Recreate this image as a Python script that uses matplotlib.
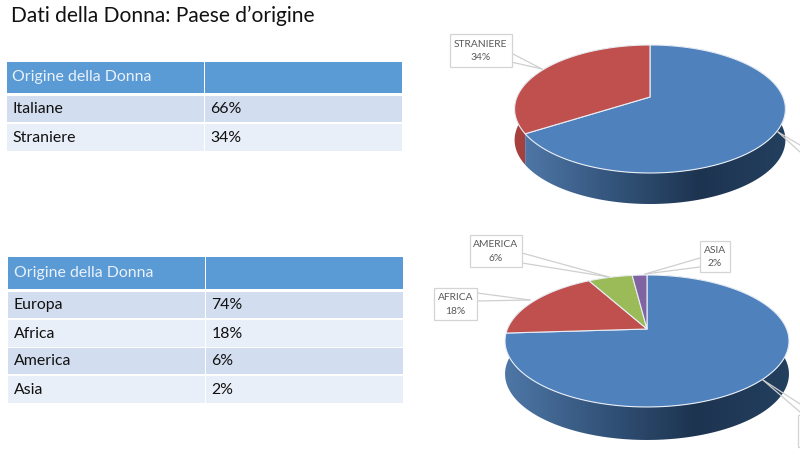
import numpy as np
import matplotlib
matplotlib.use("Agg")
import matplotlib.pyplot as plt
from matplotlib.patches import Polygon, Rectangle
from matplotlib.colors import LinearSegmentedColormap

TITLE = "Dati della Donna: Paese d’origine"
TABLE_HEADER = "Origine della Donna"

origin_labels = ["Italiane", "Straniere"]
origin_values = [66, 34]
area_labels = ["Europa", "Africa", "America", "Asia"]
area_values = [74, 18, 6, 2]

BLUE, RED, GREEN, PURPLE = "#4f81bd", "#c0504d", "#9bbb59", "#8064a2"
FONT = "Lato"

fig = plt.figure(figsize=(8, 4.57), dpi=100, facecolor="white")
ax = fig.add_axes([0, 0, 1, 1])
ax.set_xlim(0, 800)
ax.set_ylim(457, 0)
ax.axis("off")

ax.text(11, 15.5, TITLE, fontsize=15.1, family=FONT, color="#111111", va="center", ha="left")


def draw_table(rows, values, x0, top, header_bottom, row_spans):
    xm, x1 = x0 + 197, x0 + 394.5
    ax.add_patch(Rectangle((x0, top), xm - x0 - 0.5, header_bottom - top, fc="#5b9bd5", ec="none"))
    ax.add_patch(Rectangle((xm + 0.5, top), x1 - xm - 0.5, header_bottom - top, fc="#5b9bd5", ec="none"))
    ax.text(x0 + 5.5, (top + header_bottom) / 2 - 0.5, TABLE_HEADER, color="#e9f1fa", fontsize=11.4,
            family=FONT, va="center")
    for i, (r, v, (y0, y1)) in enumerate(zip(rows, values, row_spans)):
        c = "#d2deef" if i % 2 == 0 else "#e9eff8"
        ax.add_patch(Rectangle((x0, y0), xm - x0 - 0.5, y1 - y0, fc=c, ec="none"))
        ax.add_patch(Rectangle((xm + 0.5, y0), x1 - xm - 0.5, y1 - y0, fc=c, ec="none"))
        ym = (y0 + y1) / 2
        ax.text(x0 + 5.5, ym, r, color="#111111", fontsize=11.4, family=FONT, va="center")
        ax.text(xm + 6.5, ym, f"{v}%", color="#111111", fontsize=11.4, family=FONT, va="center")


draw_table(origin_labels, origin_values, 7, 62, 93, [(96, 122), (124, 151)])
draw_table(area_labels, area_values, 8, 257, 289, [(292, 318), (320, 347), (348, 374), (376, 403)])


def draw_pie(values, colors, cx, cy, a, b, k, depth, wall_extra=0.0):
    """Perspective-projected 3D pie; slices run clockwise from 12 o'clock."""
    def rim(theta):
        u, v = np.sin(theta), np.cos(theta)
        w = 1 + k * v
        return cx + a * u / w, cy - b * v / w

    edges = np.cumsum([0] + list(values)) / sum(values) * 2 * np.pi
    side_cmap = LinearSegmentedColormap.from_list("s", ["#4f78a8", "#34557c", "#1d3450", "#23405f"])

    # side walls (the top face later hides their back parts)
    for i, c in enumerate(colors):
        start = edges[i] + (wall_extra if i == 1 else 0)
        stop = edges[i + 1] + (wall_extra if i == 0 else 0)
        t = np.linspace(start, stop, 200)
        x, y = rim(t)
        pts = np.r_[np.c_[x, y], np.c_[x, y + depth][::-1]]
        if i == 0:
            poly = Polygon(pts, fc="none", ec="none")
            ax.add_patch(poly)
            im = ax.imshow(np.linspace(0, 1, 256)[None, :], cmap=side_cmap, aspect="auto",
                           extent=(x.min() - 3, x.max() + 3, cy + b * 2, cy - b * 2), zorder=1.5)
            im.set_clip_path(poly)
        else:
            ax.add_patch(Polygon(pts, fc="#a5403d" if c == RED else c, ec="none", zorder=1))
    ax.set_xlim(0, 800)
    ax.set_ylim(457, 0)

    # top faces
    for i, c in enumerate(colors):
        t = np.linspace(edges[i], edges[i + 1], 200)
        x, y = rim(t)
        pts = np.r_[[[cx, cy]], np.c_[x, y]]
        ax.add_patch(Polygon(pts, fc=c, ec="#e8eef6", lw=0.8, joinstyle="round", zorder=2))


draw_pie(origin_values, [BLUE, RED], 650, 97, 133, 61.75, 0.1875, 31)
draw_pie(area_values, [BLUE, RED, GREEN, PURPLE], 647, 329, 139.6, 63.8, 0.1818, 33, wall_extra=0.4)


def callout(text, box, tip, anchors):
    x0, y0, x1, y1 = box
    for an in anchors:
        ax.plot([an[0], tip[0]], [an[1], tip[1]], color="#cfcfcf", lw=0.9, zorder=3,
                solid_capstyle="round")
    ax.add_patch(Rectangle((x0, y0), x1 - x0, y1 - y0, fc="white", ec="#d4d4d4", lw=0.9, zorder=4))
    if text:
        ax.text((x0 + x1) / 2, (y0 + y1) / 2 + 0.5, text, ha="center", va="center", fontsize=7.4,
                family=FONT, color="#595959", linespacing=1.6, zorder=5)


callout(f"STRANIERE\n{origin_values[1]}%", (450, 34, 511.5, 67), (542, 69), [(511, 53), (511, 62)])
callout("", (810, 150, 830, 180), (778, 132), [(800, 145), (800, 152)])
callout(f"AMERICA\n{area_values[2]}%", (470, 235, 522, 267), (609, 277), [(522, 253), (522, 263)])
callout(f"ASIA\n{area_values[3]}%", (700, 241, 730, 272), (645, 274), [(700, 258), (700, 267)])
callout(f"AFRICA\n{area_values[1]}%", (434, 288, 477, 320), (530, 300), [(477, 293), (477, 301)])
callout("", (798, 415, 830, 447), (763, 380), [(800, 404), (800, 412)])

fig.savefig("out.png", dpi=100, facecolor="white")
